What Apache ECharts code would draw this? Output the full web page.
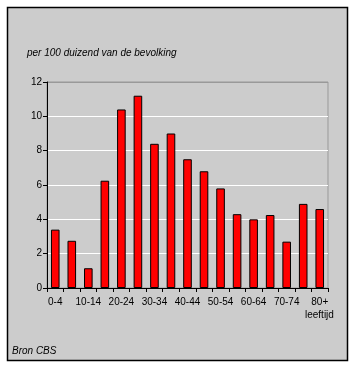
<!DOCTYPE html>
<html><head><meta charset="utf-8">
<script src="https://cdn.jsdelivr.net/npm/echarts@6/dist/echarts.min.js"></script>
<style>html,body{margin:0;padding:0;background:#fff}#c{width:355px;height:368px}</style>
</head><body><div id="c"></div>
<script>
var categories = ['0-4','5-9','10-14','15-19','20-24','25-29','30-34','35-39','40-44','45-49','50-54','55-59','60-64','65-69','70-74','75-79','80+'];
var values = [3.4, 2.75, 1.15, 6.25, 10.4, 11.2, 8.4, 9.0, 7.5, 6.8, 5.8, 4.3, 4.0, 4.25, 2.7, 4.9, 4.6];
var yTicks = [0, 2, 4, 6, 8, 10, 12];
var titleText = 'per 100 duizend van de bevolking';
var sourceText = 'Bron CBS';
var xName = 'leeftijd';

var font = '"Liberation Sans", Arial, sans-serif';
var chart = echarts.init(document.getElementById('c'), null, {renderer: 'canvas'});
chart.setOption({
  backgroundColor: '#ffffff',
  animation: false,
  graphic: [
    {type: 'rect', z: -10, shape: {x: 7.5, y: 7.5, width: 340, height: 353},
     style: {fill: '#cccccc', stroke: '#000000', lineWidth: 1.5}},
    {type: 'text', left: 27, top: 48,
     style: {text: titleText, font: 'italic 10px ' + font, fill: '#000'}},
    {type: 'text', left: 12, top: 346,
     style: {text: sourceText, font: 'italic 10px ' + font, fill: '#000'}},
    {type: 'text', left: 305, top: 310,
     style: {text: xName, font: '10px ' + font, fill: '#000'}}
  ],
  grid: {left: 47, top: 82, right: 27, bottom: 80, show: true,
         backgroundColor: 'transparent', borderColor: '#999999', borderWidth: 1},
  xAxis: {
    type: 'category', data: categories, boundaryGap: true,
    axisLine: {lineStyle: {color: '#000', width: 1}},
    axisTick: {show: true, interval: 0, length: 4, alignWithLabel: false, lineStyle: {color: '#000'}},
    axisLabel: {interval: 1, color: '#000', fontSize: 10, fontFamily: font, margin: 9}
  },
  yAxis: {
    type: 'value', min: yTicks[0], max: yTicks[yTicks.length - 1], interval: 2,
    axisLine: {show: true, lineStyle: {color: '#000', width: 1}},
    axisTick: {show: true, length: 4, lineStyle: {color: '#000'}},
    axisLabel: {color: '#000', fontSize: 10, fontFamily: font, margin: 5},
    splitLine: {show: true, lineStyle: {color: ['#ffffff','#ffffff','#ffffff','#ffffff','#ffffff','#ffffff','#999999'], width: 1}}
  },
  series: [{
    type: 'bar', data: values, barWidth: '52%',
    itemStyle: {color: '#ff0000', borderColor: '#000000', borderWidth: 1}
  }]
});
</script></body></html>
